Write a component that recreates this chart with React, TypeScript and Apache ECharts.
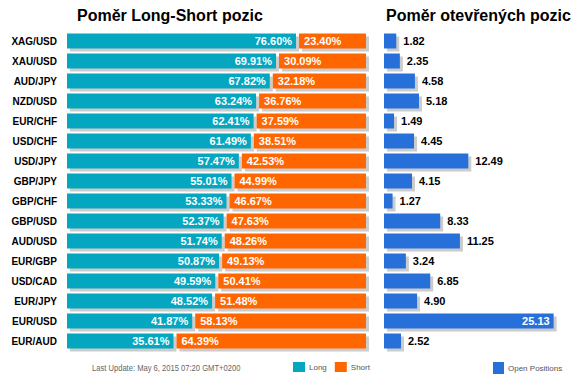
import React, { useEffect, useRef } from "react";
import * as echarts from "echarts";

const pairs = ["XAG/USD","XAU/USD","AUD/JPY","NZD/USD","EUR/CHF","USD/CHF","USD/JPY","GBP/JPY","GBP/CHF","GBP/USD","AUD/USD","EUR/GBP","USD/CAD","EUR/JPY","EUR/USD","EUR/AUD"];
const longPct = [76.60,69.91,67.82,63.24,62.41,61.49,57.47,55.01,53.33,52.37,51.74,50.87,49.59,48.52,41.87,35.61];
const shortPct = [23.40,30.09,32.18,36.76,37.59,38.51,42.53,44.99,46.67,47.63,48.26,49.13,50.41,51.48,58.13,64.39];
const openPos = [1.82,2.35,4.58,5.18,1.49,4.45,12.49,4.15,1.27,8.33,11.25,3.24,6.85,4.90,25.13,2.52];

const TEAL = "#04A6C0";
const ORANGE = "#FF6600";
const BLUE = "#2870D9";
const SHADOW = "#cccccc";
const FONT = '"Liberation Sans", Arial, sans-serif';
const BAR_H = 15;

export default function App() {
  const ref = useRef<HTMLDivElement>(null);
  useEffect(() => {
    const chart = echarts.init(ref.current!, null, { renderer: "svg" });
    const labelStyle = (text: string, x: number, y: number, align: string, fill: string) => ({
      type: "text",
      style: { text, x, y, align, verticalAlign: "middle", fill, fontSize: 11, fontWeight: "bold", fontFamily: FONT },
    });
    const option: any = {
      animation: false,
      backgroundColor: "#ffffff",
      title: [
        { text: "Poměr Long-Short pozic", left: 77, top: 7, padding: 0, textStyle: { fontSize: 16, fontWeight: "bold", color: "#000", fontFamily: FONT } },
        { text: "Poměr otevřených pozic", left: 386, top: 7, padding: 0, textStyle: { fontSize: 16, fontWeight: "bold", color: "#000", fontFamily: FONT } },
      ],
      legend: [
        { data: ["Long", "Short"], left: 293, top: 362, padding: 0, icon: "rect", itemWidth: 12, itemHeight: 10, itemGap: 8, itemStyle: { borderWidth: 0 },
          textStyle: { fontSize: 8, color: "#555", fontFamily: FONT, padding: [0, 0, 3, -1] } },
        { data: ["Open Positions"], left: 493, top: 362, padding: 0, icon: "rect", itemWidth: 11, itemHeight: 12, itemStyle: { borderWidth: 0 },
          textStyle: { fontSize: 8, color: "#555", fontFamily: FONT, padding: [0, 0, 0, -1] } },
      ],
      graphic: [
        { type: "text", x: 92, y: 363, scaleX: 0.8, style: { text: "Last Update: May 6, 2015 07:20 GMT+0200", fill: "#666", fontSize: 9.5, fontFamily: FONT } },
      ],
      grid: [
        { left: 67, top: 31, width: 299, height: 320 },
        { left: 384, top: 31, width: 189, height: 320 },
      ],
      xAxis: [
        { type: "value", gridIndex: 0, min: 0, max: 100, show: false },
        { type: "value", gridIndex: 1, min: 0, max: 28, show: false },
      ],
      yAxis: [
        { type: "category", gridIndex: 0, data: pairs, inverse: true, axisLine: { show: false }, axisTick: { show: false },
          axisLabel: { margin: 10, color: "#000", fontWeight: "bold", fontSize: 10, fontFamily: FONT } },
        { type: "category", gridIndex: 1, data: pairs, inverse: true, show: false },
      ],
      series: [
        {
          name: "Long", type: "custom", xAxisIndex: 0, yAxisIndex: 0, itemStyle: { color: TEAL },
          data: pairs.map((_, i) => [i, longPct[i]]),
          renderItem: (params: any, api: any) => {
            const i = api.value(0); const v = api.value(1);
            const s = api.coord([0, i]); const e = api.coord([v, i]);
            const y = s[1] - BAR_H / 2;
            return { type: "group", children: [
              { type: "rect", shape: { x: s[0] + 3, y: y + 3, width: e[0] - s[0], height: BAR_H }, style: { fill: SHADOW } },
              { type: "rect", shape: { x: s[0], y, width: e[0] - s[0], height: BAR_H }, style: { fill: TEAL } },
              labelStyle(v.toFixed(2) + "%", e[0] - 4, s[1], "right", "#fff"),
            ] };
          },
        },
        {
          name: "Short", type: "custom", xAxisIndex: 0, yAxisIndex: 0, itemStyle: { color: ORANGE },
          data: pairs.map((_, i) => [i, longPct[i], shortPct[i]]),
          renderItem: (params: any, api: any) => {
            const i = api.value(0); const l = api.value(1); const v = api.value(2);
            const s = api.coord([l, i]); const e = api.coord([l + v, i]);
            const x0 = s[0] + 3;
            const y = s[1] - BAR_H / 2;
            return { type: "group", children: [
              { type: "rect", shape: { x: x0 + 3, y: y + 3, width: e[0] - x0, height: BAR_H }, style: { fill: SHADOW } },
              { type: "rect", shape: { x: x0, y, width: e[0] - x0, height: BAR_H }, style: { fill: ORANGE } },
              labelStyle(v.toFixed(2) + "%", x0 + 5, s[1], "left", "#fff"),
            ] };
          },
        },
        {
          name: "Open Positions", type: "custom", xAxisIndex: 1, yAxisIndex: 1, itemStyle: { color: BLUE },
          data: pairs.map((_, i) => [i, openPos[i]]),
          renderItem: (params: any, api: any) => {
            const i = api.value(0); const v = api.value(1);
            const s = api.coord([0, i]); const e = api.coord([v, i]);
            const y = s[1] - BAR_H / 2;
            const inside = v > 20;
            return { type: "group", children: [
              { type: "rect", shape: { x: s[0] + 3, y: y + 3, width: e[0] - s[0], height: BAR_H }, style: { fill: SHADOW } },
              { type: "rect", shape: { x: s[0], y, width: e[0] - s[0], height: BAR_H }, style: { fill: BLUE } },
              inside
                ? labelStyle(v.toFixed(2), e[0] - 4, s[1], "right", "#fff")
                : labelStyle(v.toFixed(2), e[0] + 7, s[1], "left", "#000"),
            ] };
          },
        },
      ],
    };
    chart.setOption(option);
    return () => chart.dispose();
  }, []);
  return <div ref={ref} style={{ width: 576, height: 382, position: "absolute", left: 0, top: 0 }} />;
}
